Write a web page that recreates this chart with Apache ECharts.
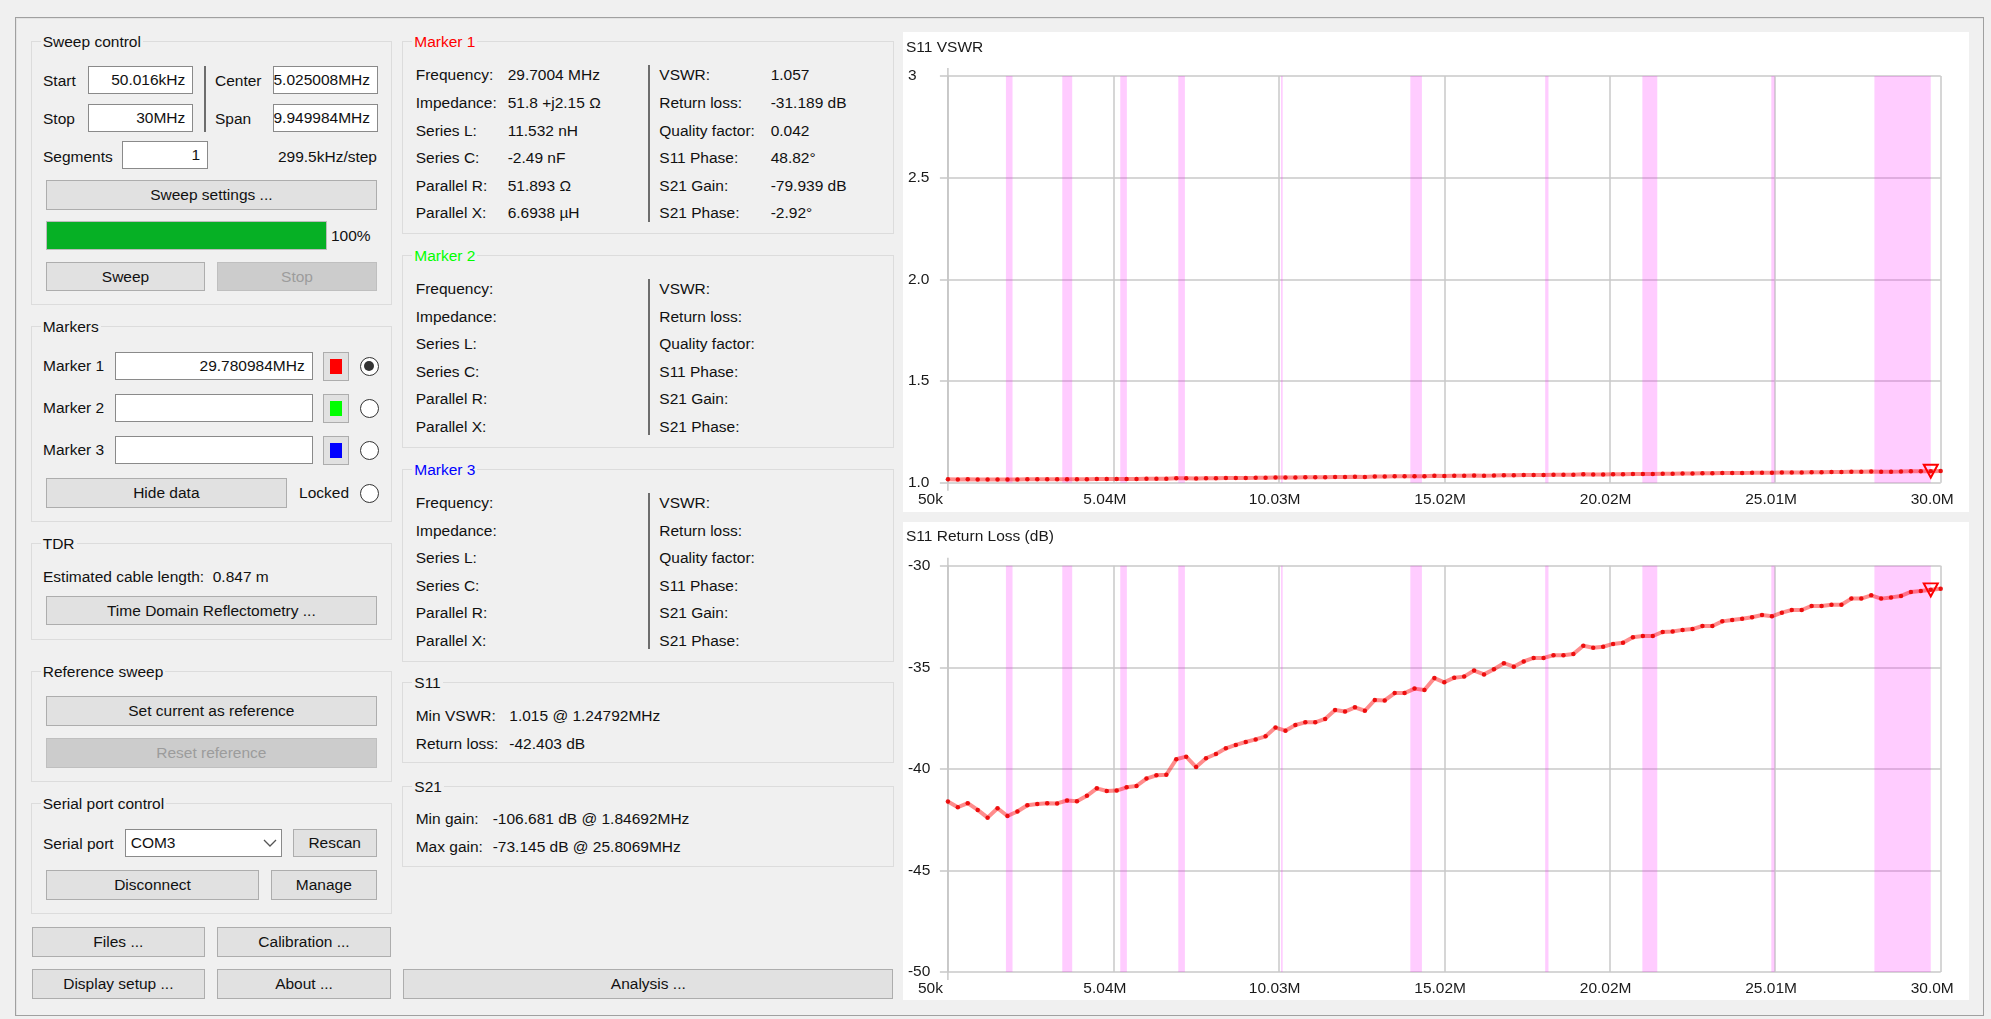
<!DOCTYPE html>
<html>
<head>
<meta charset="utf-8">
<title>NanoVNA-Saver</title>
<script src="https://cdn.jsdelivr.net/npm/echarts@6/dist/echarts.min.js"></script>
<style>
  html, body { margin: 0; padding: 0; width: 1991px; height: 1019px; overflow: hidden; background: #f0f0f0;
    font-family: 'Liberation Sans', Arial, sans-serif; font-size: 15.5px; color: #111; }
  #ui { position: absolute; left: 0; top: 0; width: 1991px; height: 1019px; }
  .abs { position: absolute; box-sizing: border-box; white-space: nowrap; }
  .frame { border: 1px solid #a0a0a0; box-shadow: inset 1px 1px 0 #e3e3e3; }
  .grp { border: 1px solid #dcdcdc; }
  .txt { position: absolute; height: 18px; line-height: 18px; white-space: pre; }
  .btn { background: #e1e1e1; border: 1px solid #adadad; text-align: center; }
  .btn.dis { background: #cccccc; border-color: #bfbfbf; color: #9c9c9c; }
  .inp { background: #fff; border: 1px solid #8a8a8a; overflow: hidden; display: flex; justify-content: flex-end; padding-right: 7px; }
  .combo { background: #fff; border: 1px solid #8a8a8a; text-align: left; padding-left: 5px; }
  .radio { border: 1px solid #333; border-radius: 50%; background: #fff; }
  .panel { position: absolute; background: #fff; }
  #chart { position: absolute; left: 903px; top: 31px; width: 1066px; height: 969px; }
</style>
</head>
<body>
<div id="ui"></div>
<div class="panel" style="left:903px;top:32px;width:1066px;height:480px"></div>
<div class="panel" style="left:903px;top:522px;width:1066px;height:478px"></div>
<div id="chart"></div>
<script>
// ---- Sweep data (S11, one segment, 101 points) ----
const sweepStartHz = 49920;          // first measured point
const sweepStepHz = 299500;          // 299.5 kHz / step
const returnLossDb = [
  -41.61, -41.89, -41.69, -42.02, -42.403, -41.94, -42.32, -42.10, -41.79, -41.73,
  -41.69, -41.70, -41.56, -41.60, -41.33, -40.96, -41.09, -41.07, -40.91, -40.84,
  -40.48, -40.32, -40.29, -39.53, -39.40, -39.91, -39.48, -39.27, -38.99, -38.82,
  -38.68, -38.55, -38.40, -37.97, -38.12, -37.84, -37.71, -37.71, -37.54, -37.10,
  -37.18, -36.97, -37.14, -36.61, -36.63, -36.27, -36.27, -36.05, -36.12, -35.53,
  -35.74, -35.51, -35.46, -35.16, -35.35, -35.10, -34.80, -34.97, -34.71, -34.54,
  -34.54, -34.41, -34.41, -34.35, -33.94, -34.04, -33.99, -33.85, -33.79, -33.52,
  -33.46, -33.46, -33.26, -33.24, -33.16, -33.12, -32.97, -32.97, -32.74, -32.67,
  -32.61, -32.54, -32.43, -32.49, -32.31, -32.18, -32.18, -31.98, -31.98, -31.92,
  -31.92, -31.62, -31.62, -31.46, -31.62, -31.56, -31.49, -31.29, -31.24, -31.189,
  -31.13
];
const marker1Index = 99;

// Axis span and tick labels
const axisStartHz = 50016;
const axisStopHz = 30000000;
const freqTicks = [50016, 5041680, 10033344, 15025008, 20016672, 25008336, 30000000];
const freqTickLabels = ['50k', '5.04M', '10.03M', '15.02M', '20.02M', '25.01M', '30.0M'];
const vswrTicks = [1, 1.5, 2, 2.5, 3];
const vswrTickLabels = ['1.0', '1.5', '2.0', '2.5', '3'];

// Amateur bands highlighted on the charts [startHz, stopHz]
const bandStartHz = [1800000, 3500000, 5250000, 7000000, 10100000, 14000000, 18068000, 21000000, 24890000, 28000000];
const bandStopHz  = [2000000, 3800000, 5450000, 7200000, 10150000, 14350000, 18168000, 21450000, 24990000, 29700000];

// Frequencies of the sweep points and VSWR from |S11|
const freqHz = returnLossDb.map((_, i) => sweepStartHz + i * sweepStepHz);
const vswr = returnLossDb.map(rl => { const g = Math.pow(10, rl / 20); return (1 + g) / (1 - g); });

// ---- Left and middle control panels ----
const ui = document.getElementById('ui');
function box(cls, x1, y1, x2, y2, text, style) {
  const d = document.createElement('div');
  d.className = 'abs ' + cls;
  d.style.left = x1 + 'px'; d.style.top = y1 + 'px';
  d.style.width = (x2 - x1) + 'px'; d.style.height = (y2 - y1) + 'px';
  if (text != null) {
    const s = document.createElement('span');
    s.textContent = text;
    s.style.flex = 'none';
    d.appendChild(s);
    d.style.lineHeight = (y2 - y1 - 2) + 'px';
  }
  if (style) Object.assign(d.style, style);
  ui.appendChild(d);
  return d;
}
function text(x, yc, t, style) {
  const d = document.createElement('div');
  d.className = 'txt';
  d.style.left = x + 'px'; d.style.top = (yc - 9) + 'px';
  d.textContent = t;
  if (style) Object.assign(d.style, style);
  ui.appendChild(d);
  return d;
}
function rtext(xr, yc, t) {
  const d = text(0, yc, t);
  d.style.left = ''; d.style.right = (1991 - xr) + 'px';
  return d;
}
function group(x1, y1, x2, y2, title, color) {
  box('grp', x1, y1, x2, y2);
  text(x1 + 10, y1 + 1, title, { background: '#f0f0f0', padding: '0 2px', color: color || '#111' });
}
function radio(cx, cy, checked) {
  box('radio', cx - 9.5, cy - 9.5, cx + 9.5, cy + 9.5);
  if (checked) box('radio', cx - 5, cy - 5, cx + 5, cy + 5, null, { background: '#333', border: 'none' });
}
function colorButton(x, y, color) {
  box('btn', x, y, x + 26, y + 29);
  box('', x + 7, y + 7, x + 19, y + 22, null, { background: color });
}

box('frame', 15, 17, 1984, 1016);

// Sweep control
group(30.7, 41, 392.3, 305, 'Sweep control');
text(43, 81, 'Start');
text(43, 119.3, 'Stop');
box('inp', 88.3, 65.7, 193.3, 93.7, '50.016kHz');
box('inp', 88.3, 103.7, 193.3, 131.7, '30MHz');
box('', 204, 65.7, 206, 131.7, null, { background: '#6d6d6d' });
text(215, 81, 'Center');
text(215, 119.3, 'Span');
box('inp', 272.7, 65.7, 378, 93.7, '15.025008MHz');
box('inp', 272.7, 103.7, 378, 131.7, '29.949984MHz');
text(43, 156.7, 'Segments');
box('inp', 122, 141.3, 208, 169, '1');
rtext(377, 156.7, '299.5kHz/step');
box('btn', 46, 180.3, 376.7, 210, 'Sweep settings ...');
box('', 46, 221, 326.7, 250, null, { background: '#e6e6e6', border: '1px solid #bcbcbc' });
box('', 47, 222, 325.7, 249, null, { background: '#06b025' });
text(331, 236, '100%');
box('btn', 46, 261.7, 205, 291, 'Sweep');
box('btn dis', 217.3, 261.7, 376.7, 291, 'Stop');

// Markers
group(30.7, 326, 392.3, 521.7, 'Markers');
const markerRowsY = [366, 408, 450.2];
const markerColors = ['#ff0000', '#00ff00', '#0000ff'];
const markerFields = ['29.780984MHz', '', ''];
markerRowsY.forEach((y, k) => {
  text(43, y, 'Marker ' + (k + 1));
  box('inp', 114.7, y - 14, 312.7, y + 14, markerFields[k]);
  colorButton(323.3, y - 14, markerColors[k]);
  radio(369, y, k === 0);
});
box('btn', 46, 478.3, 286.7, 507.7, 'Hide data');
rtext(349, 493.3, 'Locked');
radio(369, 493.3, false);

// TDR
group(30.7, 542.7, 392.3, 640, 'TDR');
text(43, 576.7, 'Estimated cable length:  0.847 m');
box('btn', 46, 596, 376.7, 625, 'Time Domain Reflectometry ...');

// Reference sweep
group(30.7, 670.7, 392.3, 782.3, 'Reference sweep');
box('btn', 46, 696, 376.7, 725.7, 'Set current as reference');
box('btn dis', 46, 738, 376.7, 767.7, 'Reset reference');

// Serial port control
group(30.7, 803.3, 392.3, 914.3, 'Serial port control');
text(43, 844, 'Serial port');
box('combo', 124.7, 829, 282, 857, 'COM3');
const chevron = document.createElementNS('http://www.w3.org/2000/svg', 'svg');
chevron.setAttribute('width', '14'); chevron.setAttribute('height', '9');
chevron.style.cssText = 'position:absolute;left:262.5px;top:838.5px';
chevron.innerHTML = '<polyline points="1,1 7,7 13,1" fill="none" stroke="#555" stroke-width="1.3"/>';
ui.appendChild(chevron);
box('btn', 292.7, 829, 376.7, 857.3, 'Rescan');
box('btn', 46, 870.3, 259, 900, 'Disconnect');
box('btn', 271, 870.3, 376.7, 900, 'Manage');
box('btn', 31.7, 927.3, 205, 956.7, 'Files ...');
box('btn', 217.3, 927.3, 390.7, 956.7, 'Calibration ...');
box('btn', 31.7, 969.3, 205, 999, 'Display setup ...');
box('btn', 217.3, 969.3, 390.7, 999, 'About ...');

// Marker readouts
const leftFieldNames = ['Frequency:', 'Impedance:', 'Series L:', 'Series C:', 'Parallel R:', 'Parallel X:'];
const rightFieldNames = ['VSWR:', 'Return loss:', 'Quality factor:', 'S11 Phase:', 'S21 Gain:', 'S21 Phase:'];
const m1Left = [(freqHz[marker1Index] / 1e6).toFixed(4) + ' MHz', '51.8 +j2.15 \u03a9', '11.532 nH', '-2.49 nF', '51.893 \u03a9', '6.6938 \u00b5H'];
const m1Right = [vswr[marker1Index].toFixed(3), returnLossDb[marker1Index].toFixed(3) + ' dB', '0.042', '48.82\u00b0', '-79.939 dB', '-2.92\u00b0'];
const markerBoxTops = [41.3, 255, 469];
markerBoxTops.forEach((top, k) => {
  group(402.3, top, 894.3, top + 192.5, 'Marker ' + (k + 1), markerColors[k]);
  box('', 648, top + 23.7, 650, top + 180.4, null, { background: '#6d6d6d' });
  for (let r = 0; r < 6; r++) {
    const y = top + 34 + r * 27.6;
    text(415.7, y, leftFieldNames[r]);
    text(659.3, y, rightFieldNames[r]);
    if (k === 0) {
      text(507.7, y, m1Left[r]);
      text(770.7, y, m1Right[r]);
    }
  }
});

// S11 / S21 summaries
let minIdx = 0;
vswr.forEach((v, i) => { if (v < vswr[minIdx]) minIdx = i; });
group(402.3, 682.3, 894.3, 763.3, 'S11');
text(415.7, 716.3, 'Min VSWR:');
text(509.3, 716.3, vswr[minIdx].toFixed(3) + ' @ ' + (freqHz[minIdx] / 1e6).toFixed(5) + 'MHz');
text(415.7, 743.7, 'Return loss:');
text(509.3, 743.7, returnLossDb[minIdx].toFixed(3) + ' dB');
group(402.3, 786, 894.3, 866.7, 'S21');
text(415.7, 819.3, 'Min gain:');
text(492.7, 819.3, '-106.681 dB @ 1.84692MHz');
text(415.7, 846.7, 'Max gain:');
text(492.7, 846.7, '-73.145 dB @ 25.8069MHz');
box('btn', 403.3, 969, 893.3, 998.7, 'Analysis ...');

// ---- Charts ----
const FONT = 'Liberation Sans';
const TEXT = '#1a1a1a';
const GRID = '#c8c8c8';
const chart = echarts.init(document.getElementById('chart'), null, { renderer: 'canvas' });

const gridBoxes = [
  { left: 44.9, top: 45, width: 992.8, height: 406.7 },
  { left: 44.9, top: 534.7, width: 992.8, height: 406.3 }
];

function xAxisFor(gi) {
  return {
    type: 'value', gridIndex: gi, min: axisStartHz, max: axisStopHz,
    axisLine: { show: false },
    axisTick: { show: false, customValues: freqTicks },
    splitLine: { show: true, lineStyle: { color: GRID, width: 1.5 } },
    axisLabel: {
      customValues: freqTicks, margin: 9, align: 'center',
      formatter: v => '{t|' + freqTickLabels[freqTicks.indexOf(v)] + '}',
      rich: { t: { width: 60, align: 'left', fontFamily: FONT, fontSize: 15.5, color: TEXT } }
    }
  };
}
function yAxisFor(gi, min, max, interval, fmt) {
  return {
    type: 'value', gridIndex: gi, min: min, max: max, interval: interval,
    axisLine: { show: true, lineStyle: { color: GRID, width: 1.5 } },
    axisTick: { show: true, length: 8, lineStyle: { color: GRID, width: 1.5 } },
    splitLine: { show: true, lineStyle: { color: GRID, width: 1.5 } },
    axisLabel: { align: 'left', margin: 40, fontFamily: FONT, fontSize: 15.5, color: TEXT, formatter: fmt }
  };
}
const bandAreas = bandStartHz.map((s, i) => [{ xAxis: s }, { xAxis: bandStopHz[i] }]);
function bandSeries(gi) {
  return {
    type: 'line', xAxisIndex: gi, yAxisIndex: gi, data: [], silent: true, z: 1,
    markArea: { silent: true, itemStyle: { color: 'rgba(255,0,255,0.2)' }, data: bandAreas }
  };
}
const markerSymbol = 'path://M0,0 L14,0 L7,13 Z';
function traceSeries(gi, values) {
  return {
    type: 'line', xAxisIndex: gi, yAxisIndex: gi, z: 3, silent: true,
    data: freqHz.map((f, i) => [f, values[i]]),
    symbol: 'circle', symbolSize: 4.5, showSymbol: true,
    lineStyle: { color: 'rgba(255,0,0,0.45)', width: 4 },
    itemStyle: { color: 'rgba(235,0,0,0.9)' },
    markPoint: {
      silent: true, symbol: markerSymbol, symbolSize: [14, 13],
      itemStyle: { color: 'rgba(0,0,0,0)', borderColor: '#ff0000', borderWidth: 2 },
      label: { show: false },
      data: [{ coord: [freqHz[marker1Index], values[marker1Index]] }]
    }
  };
}

chart.setOption({
  animation: false,
  backgroundColor: 'transparent',
  textStyle: { fontFamily: FONT },
  title: [
    { text: 'S11 VSWR', left: 3, top: 8.5, padding: 0, textStyle: { fontFamily: FONT, fontSize: 15.5, fontWeight: 'normal', color: TEXT } },
    { text: 'S11 Return Loss (dB)', left: 3, top: 498, padding: 0, textStyle: { fontFamily: FONT, fontSize: 15.5, fontWeight: 'normal', color: TEXT } }
  ],
  grid: gridBoxes.map(g => Object.assign({ containLabel: false }, g)),
  xAxis: [xAxisFor(0), xAxisFor(1)],
  yAxis: [
    yAxisFor(0, 1, 3, 0.5, v => vswrTickLabels[vswrTicks.indexOf(v)]),
    yAxisFor(1, -50, -30, 5, v => String(v))
  ],
  series: [bandSeries(0), traceSeries(0, vswr), bandSeries(1), traceSeries(1, returnLossDb)]
});

// Left axis line runs a little past the plot area at both ends
const axisExt = [[1, 3], [-50, -30]].map((range, gi) => {
  const top = chart.convertToPixel({ gridIndex: gi }, [axisStartHz, range[1]]);
  const bot = chart.convertToPixel({ gridIndex: gi }, [axisStartHz, range[0]]);
  return { type: 'line', silent: true, z: 0,
    shape: { x1: top[0], y1: top[1] - 8, x2: bot[0], y2: bot[1] + 8 },
    style: { stroke: GRID, lineWidth: 1.5 } };
});
chart.setOption({ graphic: axisExt });
</script>
</body>
</html>
